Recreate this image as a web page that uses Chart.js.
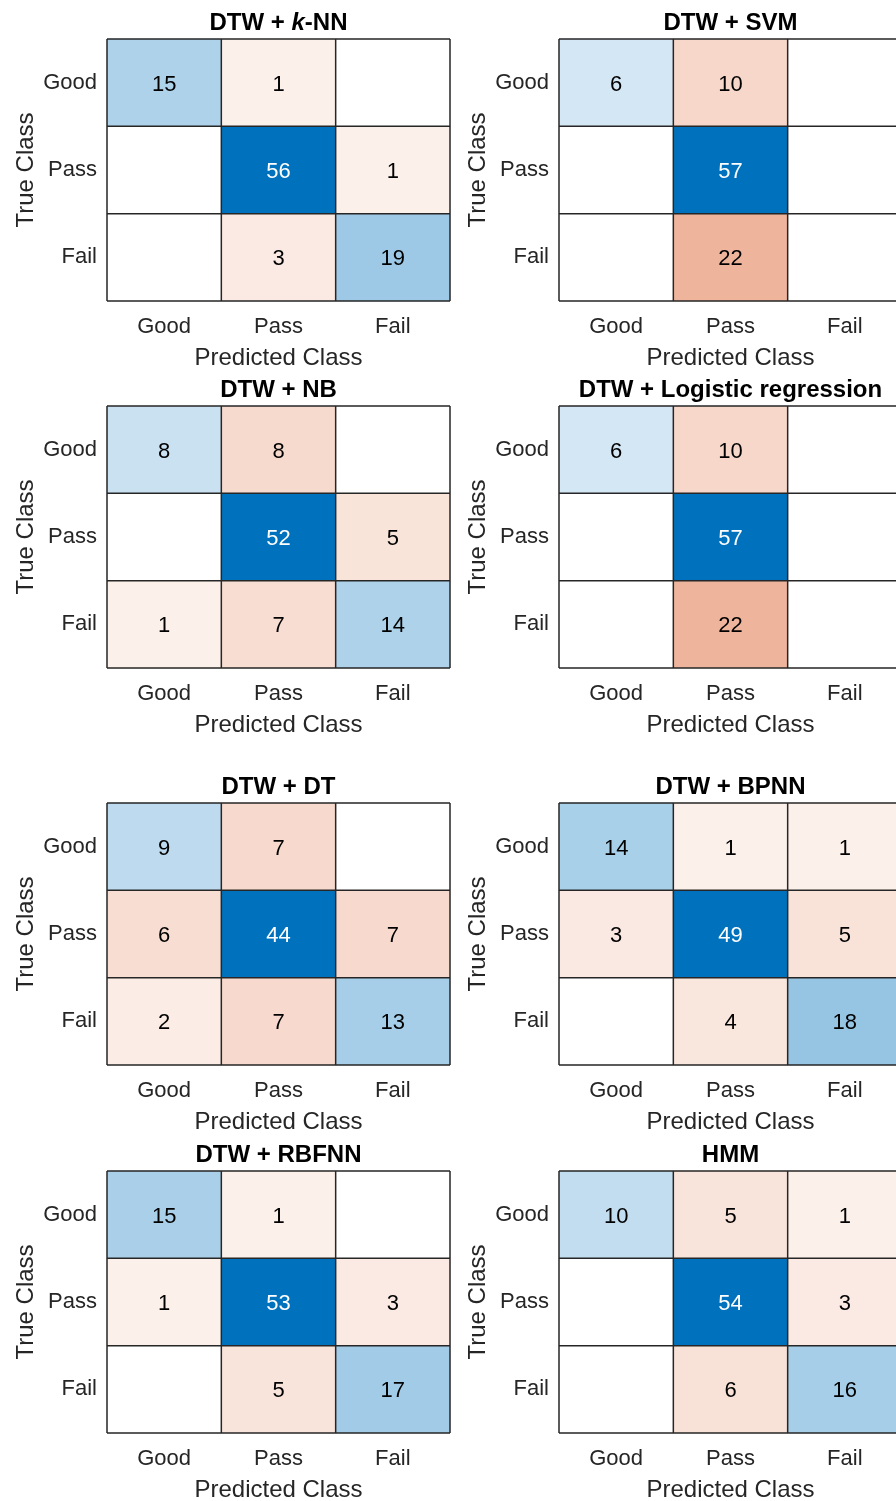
<!DOCTYPE html>
<html>
<head>
<meta charset="utf-8">
<title>Confusion matrices</title>
<script src="https://cdn.jsdelivr.net/npm/chart.js@4.4.0/dist/chart.umd.min.js"></script>
<style>
  html, body { margin: 0; padding: 0; background: #fff; overflow: hidden; }
  #sheet { position: relative; width: 896px; height: 1501px; overflow: hidden; }
  #sheet canvas { position: absolute; }
</style>
</head>
<body>
<div id="sheet"></div>
<script>
// class names, used on both axes
const classes = ['Good', 'Pass', 'Fail'];

// panel titles (text between * is italic)
const titles = [
    'DTW + *k*-NN', 'DTW + SVM',
    'DTW + NB', 'DTW + Logistic regression',
    'DTW + DT', 'DTW + BPNN',
    'DTW + RBFNN', 'HMM'
];

// confusion matrices: rows = true class, columns = predicted class
const knn    = [[15, 1, 0], [0, 56, 1], [0, 3, 19]];
const svm    = [[6, 10, 0], [0, 57, 0], [0, 22, 0]];
const nb     = [[8, 8, 0], [0, 52, 5], [1, 7, 14]];
const logreg = [[6, 10, 0], [0, 57, 0], [0, 22, 0]];
const dt     = [[9, 7, 0], [6, 44, 7], [2, 7, 13]];
const bpnn   = [[14, 1, 1], [3, 49, 5], [0, 4, 18]];
const rbfnn  = [[15, 1, 0], [1, 53, 3], [0, 5, 17]];
const hmm    = [[10, 5, 1], [0, 54, 3], [0, 6, 16]];

const matrices = [knn, svm, nb, logreg, dt, bpnn, rbfnn, hmm];

const FONT = "'Liberation Sans', Arial, Helvetica, sans-serif";
const AXIS_COLOR = '#262626';
const DIAG = [0, 114, 189];
const OFFDIAG = [217, 83, 25];

// canvas placement (top-left of each panel canvas)
const colLeft = [0, 452];
const rowTop = [0, 367, 764, 1132];
const PLOT_TOP = 39;
const PLOT_H = 262;
const Y_AXIS_W = 107;
const X_AXIS_H = 70;
const CANVAS_W = 460;
const CANVAS_H = PLOT_TOP + PLOT_H + X_AXIS_H;

// MATLAB-like shading: white -> base colour, scaled by count / max count
function cellColor(v, max, diag) {
    if (!v) return 'rgb(255,255,255)';
    const t = 0.07 + 0.93 * v / max;
    const base = diag ? DIAG : OFFDIAG;
    const c = base.map(b => Math.round(255 + (b - 255) * t));
    return `rgb(${c[0]},${c[1]},${c[2]})`;
}

function isDark(v, max, diag) {
    if (!v) return false;
    const t = 0.07 + 0.93 * v / max;
    const base = diag ? DIAG : OFFDIAG;
    const c = base.map(b => 255 + (b - 255) * t);
    const lum = 0.299 * c[0] + 0.587 * c[1] + 0.114 * c[2];
    return lum < 128;
}

// draws the cell grid at the category / value boundaries
const cellGrid = {
    id: 'cellGrid',
    afterDatasetsDraw(chart) {
        const { ctx, chartArea: a, scales: { x, y } } = chart;
        ctx.save();
        ctx.strokeStyle = AXIS_COLOR;
        ctx.lineWidth = 1.5;
        ctx.beginPath();
        for (let i = 0; i <= classes.length; i++) {
            const py = y.getPixelForValue(i);
            ctx.moveTo(a.left, py);
            ctx.lineTo(a.right, py);
            const px = x.getPixelForValue(i - 0.5);
            ctx.moveTo(px, a.top);
            ctx.lineTo(px, a.bottom);
        }
        ctx.stroke();
        ctx.restore();
    }
};

// count written in the middle of each non-empty cell
const cellText = {
    id: 'cellText',
    afterDatasetsDraw(chart, args, opts) {
        const { ctx } = chart;
        const m = opts.matrix;
        const max = Math.max(...m.flat());
        ctx.save();
        ctx.font = `22px ${FONT}`;
        ctx.textAlign = 'center';
        ctx.textBaseline = 'middle';
        chart.data.datasets.forEach((ds, r) => {
            chart.getDatasetMeta(r).data.forEach((bar, c) => {
                const v = m[r][c];
                if (!v) return;
                const p = bar.getProps(['x', 'y', 'base'], true);
                ctx.fillStyle = isDark(v, max, r === c) ? '#ffffff' : '#000000';
                ctx.fillText(String(v), p.x, (p.y + p.base) / 2 + 2);
            });
        });
        ctx.restore();
    }
};

// bold title with optional italic parts
const panelTitle = {
    id: 'panelTitle',
    afterDraw(chart, args, opts) {
        const { ctx, chartArea: a } = chart;
        const parts = opts.text.split('*');
        const fonts = parts.map((p, i) => (i % 2 ? 'italic ' : '') + `bold 24px ${FONT}`);
        let total = 0;
        const widths = parts.map((p, i) => {
            ctx.font = fonts[i];
            const w = ctx.measureText(p).width;
            total += w;
            return w;
        });
        let x = (a.left + a.right) / 2 - total / 2;
        const y = a.top - 16;
        ctx.save();
        ctx.fillStyle = '#000000';
        ctx.textBaseline = 'middle';
        ctx.textAlign = 'left';
        parts.forEach((p, i) => {
            ctx.font = fonts[i];
            ctx.fillText(p, x, y);
            x += widths[i];
        });
        ctx.restore();
    }
};

function makePanel(idx) {
    const m = matrices[idx];
    const max = Math.max(...m.flat());
    const canvas = document.createElement('canvas');
    canvas.width = CANVAS_W;
    canvas.height = CANVAS_H;
    canvas.style.left = colLeft[idx % 2] + 'px';
    canvas.style.top = rowTop[Math.floor(idx / 2)] + 'px';
    canvas.style.width = CANVAS_W + 'px';
    canvas.style.height = CANVAS_H + 'px';
    document.getElementById('sheet').appendChild(canvas);

    // one floating-bar dataset per true-class row
    const datasets = classes.map((name, r) => ({
        label: name,
        data: classes.map(() => [r, r + 1]),
        backgroundColor: m[r].map((v, c) => cellColor(v, max, r === c)),
        borderWidth: 0,
        barPercentage: 1,
        categoryPercentage: 1,
        grouped: false
    }));

    new Chart(canvas.getContext('2d'), {
        type: 'bar',
        data: { labels: classes, datasets: datasets },
        options: {
            responsive: false,
            animation: false,
            devicePixelRatio: 1,
            layout: { padding: { top: PLOT_TOP, left: 0, right: 10, bottom: 0 } },
            plugins: {
                legend: { display: false },
                tooltip: { enabled: false },
                panelTitle: { text: titles[idx] },
                cellText: { matrix: m }
            },
            scales: {
                x: {
                    type: 'category',
                    offset: true,
                    grid: { display: false, drawTicks: false, tickLength: 0 },
                    border: { display: false },
                    ticks: {
                        color: AXIS_COLOR,
                        font: { family: FONT, size: 22, lineHeight: 1 },
                        padding: 15,
                        autoSkip: false,
                        maxRotation: 0
                    },
                    title: {
                        display: true,
                        text: 'Predicted Class',
                        color: AXIS_COLOR,
                        font: { family: FONT, size: 24, lineHeight: 1 },
                        padding: { top: 0, bottom: 1 }
                    },
                    afterFit(scale) { scale.height = X_AXIS_H; }
                },
                y: {
                    type: 'linear',
                    min: 0,
                    max: 3,
                    reverse: true,
                    grid: { display: false, drawTicks: false, tickLength: 0 },
                    border: { display: false },
                    afterBuildTicks(scale) {
                        scale.ticks = classes.map((c, i) => ({ value: i + 0.5 }));
                    },
                    ticks: {
                        color: AXIS_COLOR,
                        font: { family: FONT, size: 22, lineHeight: 1 },
                        padding: 10,
                        callback: (v, i) => classes[i]
                    },
                    title: {
                        display: true,
                        text: 'True Class',
                        color: AXIS_COLOR,
                        font: { family: FONT, size: 24, lineHeight: 1 },
                        padding: { top: 14, bottom: 0 }
                    },
                    afterFit(scale) { scale.width = Y_AXIS_W; }
                }
            }
        },
        plugins: [cellGrid, cellText, panelTitle]
    });
}

document.addEventListener('DOMContentLoaded', () => {
    matrices.forEach((m, i) => makePanel(i));
});
</script>
</body>
</html>
